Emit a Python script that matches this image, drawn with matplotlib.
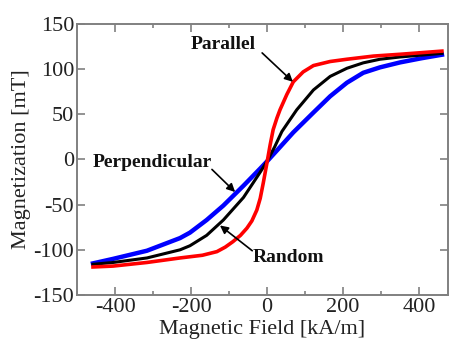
import matplotlib.pyplot as plt
from matplotlib.ticker import MultipleLocator

plt.rcParams['font.family'] = ['Liberation Serif', 'DejaVu Serif']
plt.rcParams['axes.unicode_minus'] = False

# field values [kA/m] and magnetization [mT]
h_par = [-458, -405, -316, -229, -170, -132, -110, -90, -70, -53, -40, -27, -18, -10, 0, 8, 16, 26, 34,
         52, 69, 95, 122, 166, 210, 280, 350, 460]
m_par = [-119, -118, -114, -109, -106, -102, -97, -91, -84, -76, -68, -56, -43, -26, -3, 16, 33, 46, 55,
         72, 86, 97, 104, 108.5, 111, 114.5, 116.5, 120]

h_rand = [-458, -405, -316, -229, -203, -159, -115, -62, -18, 0, 20, 39, 78, 122, 166, 210, 253, 297, 350, 460]
m_rand = [-116, -114, -109, -100, -95.5, -84, -67, -42, -14, -2, 14, 31, 55, 77, 92, 101, 107, 111, 113.5, 117.5]

h_perp = [-458, -405, -316, -229, -203, -159, -115, -62, -18, 0, 26, 69, 122, 166, 210, 253, 297, 350, 405, 460]
m_perp = [-115, -110, -101, -87, -81, -67, -51, -29, -10, -2, 10, 30, 52, 70, 85, 96, 102, 107.5, 112, 116]

fig = plt.figure(figsize=(4.49, 3.47), dpi=100)
ax = fig.add_axes([0.1715, 0.1499, 0.8263, 0.7809])

ax.plot(h_perp, m_perp, color='#0000ff', lw=3.2, solid_joinstyle='round')
ax.plot(h_rand, m_rand, color='black', lw=2.2, solid_joinstyle='round')
ax.plot(h_par, m_par, color='#ff0000', lw=2.6, solid_joinstyle='round')

ax.set_xlim(-500, 476)
ax.set_ylim(-150, 150)
ax.xaxis.set_major_locator(MultipleLocator(200))
ax.xaxis.set_minor_locator(MultipleLocator(100))
ax.yaxis.set_major_locator(MultipleLocator(50))

for s in ax.spines.values():
    s.set_color('#808080')
    s.set_linewidth(1.4)
ax.tick_params(which='both', direction='in', top=True, right=True, color='#808080',
               labelsize=16, labelcolor='#222222', pad=2)
ax.tick_params(which='major', length=6, width=1.2)
ax.tick_params(which='minor', length=3, width=1.2)

ax.set_xlabel('Magnetic Field [kA/m]', fontsize=16, color='#222222', labelpad=2)
ax.set_ylabel('Magnetization [mT]', fontsize=16, color='#222222', labelpad=2)

arrow = dict(arrowstyle='-|>', color='black', lw=1.2, mutation_scale=12, shrinkA=0, shrinkB=0)
lbl = dict(fontsize=14, fontweight='bold', va='center', color='#111111')

ax.text(-29, 127, 'Parallel', ha='right', **lbl)
ax.annotate('', xy=(68, 86), xytext=(-13, 118), arrowprops=arrow)

ax.text(-145, -3, 'Perpendicular', ha='right', **lbl)
ax.annotate('', xy=(-84, -36), xytext=(-145, -11), arrowprops=arrow)

ax.text(-39, -108, 'Random', ha='left', **lbl)
ax.annotate('', xy=(-124, -73), xytext=(-39, -101), arrowprops=arrow)

fig.savefig('out.png', dpi=100)
